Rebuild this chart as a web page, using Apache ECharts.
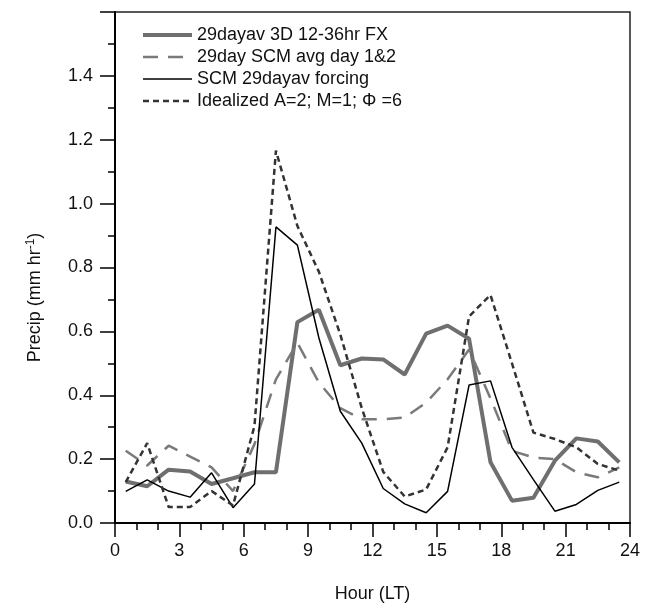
<!DOCTYPE html>
<html>
<head>
<meta charset="utf-8">
<script src="https://cdn.jsdelivr.net/npm/echarts@6/dist/echarts.min.js"></script>
<style>
  html, body { margin: 0; padding: 0; background: #fff; }
  #main { width: 652px; height: 608px; }
</style>
</head>
<body>
<div id="main"></div>
<script>
// hour of day (LT), mid-hour points
const hours = [0.5, 1.5, 2.5, 3.5, 4.5, 5.5, 6.5, 7.5, 8.5, 9.5, 10.5, 11.5,
  12.5, 13.5, 14.5, 15.5, 16.5, 17.5, 18.5, 19.5, 20.5, 21.5, 22.5, 23.5];

// precip (mm hr-1)
const fx3d = [0.13, 0.115, 0.167, 0.161, 0.122, 0.14, 0.159, 0.159, 0.629, 0.668, 0.494, 0.515,
  0.512, 0.465, 0.593, 0.618, 0.577, 0.19, 0.07, 0.079, 0.195, 0.265, 0.255, 0.19];
const scmAvg = [0.226, 0.18, 0.242, 0.208, 0.174, 0.1, 0.247, 0.45, 0.564, 0.44, 0.36, 0.325,
  0.325, 0.33, 0.377, 0.45, 0.543, 0.39, 0.226, 0.205, 0.2, 0.159, 0.143, 0.174];
const scmForcing = [0.099, 0.135, 0.1, 0.081, 0.157, 0.048, 0.122, 0.927, 0.87, 0.58, 0.35, 0.25,
  0.108, 0.06, 0.032, 0.099, 0.432, 0.445, 0.237, 0.136, 0.037, 0.058, 0.102, 0.128];
const idealized = [0.128, 0.25, 0.05, 0.05, 0.1, 0.055, 0.304, 1.166, 0.93, 0.787, 0.59, 0.36,
  0.16, 0.083, 0.105, 0.237, 0.647, 0.714, 0.5, 0.283, 0.263, 0.237, 0.185, 0.164];

const names = [
  '29dayav 3D 12-36hr FX',
  '29day SCM avg day 1&2',
  'SCM 29dayav forcing',
  'Idealized A=2; M=1; \u03A6 =6',
];

const font = "'Liberation Sans', Arial, sans-serif";

// line look per series: colour, width, dash
const looks = [
  { color: '#6f6f6f', width: 4, type: 'solid' },
  { color: '#7a7a7a', width: 2.5, type: [15, 10] },
  { color: '#000', width: 1.5, type: 'solid' },
  { color: '#333', width: 2.5, type: [6, 4] },
];

const pairs = vals => hours.map((h, i) => [h, vals[i]]);

const line = (i, vals) => ({
  name: names[i],
  type: 'line',
  symbol: 'none',
  silent: true,
  data: pairs(vals),
  lineStyle: looks[i],
  itemStyle: { color: looks[i].color },
});

let myChart = echarts.init(document.getElementById('main'));
myChart.setOption({
  animation: false,
  textStyle: { fontFamily: font },
  grid: {
    left: 115, right: 22, top: 12, bottom: 82,
    show: true, borderColor: '#222', borderWidth: 1.5,
  },
  legend: {
    orient: 'vertical',
    left: 136, top: 21,
    itemWidth: 49, itemHeight: 14, itemGap: 4,
    itemStyle: { opacity: 0 },
    textStyle: { fontFamily: font, fontSize: 18, color: '#111' },
    data: names.map((name, i) => ({ name, lineStyle: looks[i] })),
  },
  xAxis: {
    type: 'value',
    min: 0, max: 24, interval: 3,
    name: 'Hour (LT)',
    nameLocation: 'middle',
    nameGap: 62,
    nameTextStyle: { fontFamily: font, fontSize: 18, color: '#111' },
    axisLine: { lineStyle: { color: '#000', width: 2 } },
    axisTick: { inside: false, length: 14, lineStyle: { color: '#000', width: 1.5 } },
    minorTick: { show: true, splitNumber: 3, length: 7, lineStyle: { color: '#000', width: 1.5 } },
    axisLabel: { margin: 19, fontSize: 18, color: '#111', fontFamily: font },
    splitLine: { show: false },
  },
  yAxis: {
    type: 'value',
    min: 0, max: 1.6, interval: 0.2,
    name: 'Precip (mm hr{sup|-1})',
    nameLocation: 'middle',
    nameGap: 70,
    nameRotate: 90,
    nameTextStyle: {
      fontFamily: font, fontSize: 18, color: '#111',
      padding: [0, 60, 0, 0],
      rich: { sup: { fontSize: 12, verticalAlign: 'top', padding: [0, 0, 8, 0], fontFamily: font, color: '#111' } },
    },
    axisLine: { lineStyle: { color: '#000', width: 2 } },
    axisTick: { inside: false, length: 15, lineStyle: { color: '#000', width: 1.5 } },
    minorTick: { show: true, splitNumber: 2, length: 7, lineStyle: { color: '#000', width: 1.5 } },
    axisLabel: {
      margin: 22, fontSize: 18, color: '#111', fontFamily: font,
      formatter: v => (v > 1.45 ? '' : v.toFixed(1)),
    },
    splitLine: { show: false },
  },
  series: [
    line(0, fx3d),
    line(1, scmAvg),
    line(2, scmForcing),
    line(3, idealized),
  ],
});
</script>
</body>
</html>
